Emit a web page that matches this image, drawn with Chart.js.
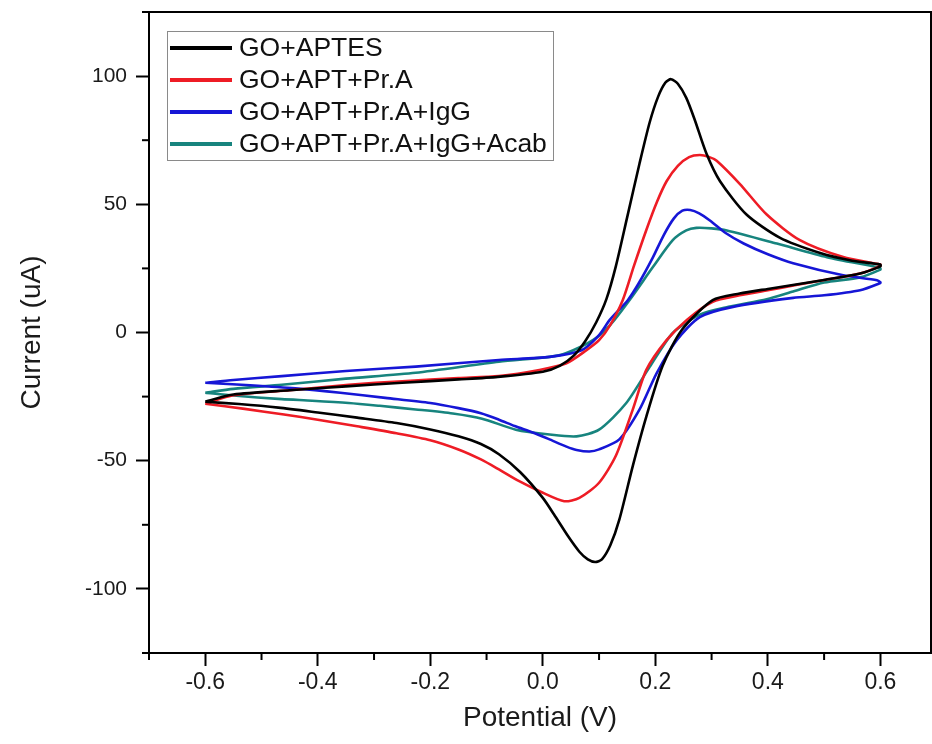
<!DOCTYPE html>
<html><head><meta charset="utf-8">
<script src="https://cdn.jsdelivr.net/npm/chart.js@4.4.0/dist/chart.umd.min.js"></script>
<style>html,body{margin:0;padding:0;background:#fff}#wrap{width:932px;height:744px;position:relative}</style>
</head><body><div id="wrap"><canvas id="c" width="932" height="744"></canvas></div>
<script>
// ---- Data (Potential in V, Current in uA), closed CV loops ----
const seriesNames = ["GO+APTES", "GO+APT+Pr.A", "GO+APT+Pr.A+IgG", "GO+APT+Pr.A+IgG+Acab"];
const seriesColors = ["#000000", "#ee1c25", "#1616d6", "#17847e"];

const apteV = [-0.6,-0.55,-0.45,-0.35,-0.25,-0.15,-0.08,0.0,0.03,0.055,0.075,0.095,0.113,0.13,0.15,0.172,0.19,0.205,0.218,0.228,0.24,0.255,0.27,0.291,0.315,0.362,0.421,0.493,0.55,0.6,
               0.6,0.564,0.5,0.45,0.4,0.35,0.302,0.247,0.213,0.184,0.16,0.136,0.12,0.105,0.093,0.08,0.065,0.045,0.02,0.0,-0.04,-0.078,-0.11,-0.15,-0.2,-0.26,-0.33,-0.4,-0.47,-0.54,-0.6];
const apteI = [-27,-24.2,-22.5,-21,-19.6,-18.3,-17.3,-15.3,-13,-9,-3.5,4,13,26,45,66,82,92,97.5,98.8,97,91.5,83,69.7,59,46,37,31,28,26.5,
               25.8,23,20.5,18.7,17,15.2,12.6,1,-13,-32.8,-52,-73,-83,-88.5,-89.5,-88.5,-85.5,-79.5,-71,-64.5,-54.5,-47.5,-43.5,-40.5,-37.8,-35.3,-33.2,-31.2,-29.3,-27.9,-27];

const praV = [-0.6,-0.55,-0.45,-0.345,-0.25,-0.15,-0.078,-0.006,0.042,0.077,0.1,0.12,0.142,0.162,0.184,0.203,0.22,0.24,0.26,0.279,0.295,0.309,0.35,0.398,0.457,0.534,0.6,
              0.6,0.564,0.5,0.45,0.4,0.35,0.302,0.256,0.22,0.184,0.16,0.13,0.1,0.065,0.038,0.0,-0.042,-0.078,-0.11,-0.15,-0.2,-0.26,-0.33,-0.4,-0.46,-0.53,-0.6];
const praI = [-27.8,-24.5,-22.5,-20.4,-19,-17.8,-17,-14.6,-12,-7,-3,3,12.6,26,40,51,59,65,68.4,69.2,68.5,67,58,46,36,29.4,26.5,
              26,23,20.5,18.5,16.5,14.5,12,4.9,-3,-14.6,-30,-48,-58.6,-64.5,-65.8,-62.5,-58,-53.4,-49.5,-45.6,-42,-39.3,-36.6,-34,-32,-29.8,-27.8];

const iggV = [-0.6,-0.55,-0.464,-0.35,-0.226,-0.078,0.012,0.07,0.1,0.119,0.151,0.17,0.195,0.215,0.233,0.248,0.262,0.278,0.297,0.325,0.357,0.4,0.445,0.534,0.594,0.6,
              0.6,0.564,0.5,0.445,0.338,0.279,0.238,0.202,0.172,0.136,0.1,0.083,0.06,0.042,0.01,-0.018,-0.05,-0.078,-0.11,-0.15,-0.2,-0.28,-0.36,-0.44,-0.52,-0.6];
const iggI = [-19.6,-18.5,-17,-15,-13.3,-10.7,-9.5,-6.8,-1,4.9,12.6,19,29,38,44.5,47.5,47.8,46.5,43.7,38.8,34.7,30.5,27,22.3,20.4,19.6,
              19.3,16.5,14.5,13.5,10,6,-3,-16,-30,-41.7,-45.6,-46.4,-45.8,-44.5,-41.5,-39,-36.5,-34,-31.5,-29.5,-27.5,-25.5,-23.5,-21.8,-20.6,-19.6];

const acabV = [-0.6,-0.55,-0.464,-0.35,-0.226,-0.078,0.012,0.042,0.089,0.12,0.154,0.196,0.231,0.255,0.273,0.3,0.327,0.416,0.505,0.594,0.6,
               0.6,0.564,0.5,0.445,0.398,0.33,0.279,0.231,0.19,0.148,0.1,0.06,0.012,-0.048,-0.108,-0.16,-0.226,-0.29,-0.345,-0.41,-0.464,-0.55,-0.6];
const acabI = [-23.5,-22,-20.4,-18,-15.7,-11.4,-9.5,-8,-3,3,12.6,25.6,36,39.8,40.8,40.6,39.8,34.7,29.4,25.5,25,
               24.5,21.5,19.5,16,13,10,7,-0.2,-13.4,-27.6,-37.9,-40.5,-39.8,-37.9,-33.6,-31.6,-30,-28.6,-27.5,-26.6,-26,-24.6,-23.5];

const xMajorTicks = [-0.6,-0.4,-0.2,0.0,0.2,0.4,0.6];
const xMinorTicks = [-0.7,-0.5,-0.3,-0.1,0.1,0.3,0.5];
const yMajorTicks = [-100,-50,0,50,100];
const yMinorTicks = [-125,-75,-25,25,75,125];

// ---- build ----
const FONT = '"Liberation Sans", Arial, Helvetica, sans-serif';
const pairs = (vs, is) => vs.map((v, k) => ({x: v, y: is[k]}));
const allV = [apteV, praV, iggV, acabV];
const allI = [apteI, praI, iggI, acabI];
const datasets = seriesNames.map((n, k) => ({
  label: n,
  data: pairs(allV[k], allI[k]),
  borderColor: seriesColors[k],
  backgroundColor: seriesColors[k],
  borderWidth: 2.6,
  showLine: true,
  pointRadius: 0,
  tension: 0.25,
  fill: false
}));

const decor = {
  id: 'decor',
  afterDraw(chart) {
    const {ctx, chartArea: a, scales: {x, y}} = chart;
    ctx.save();
    ctx.strokeStyle = '#000';
    ctx.lineWidth = 2;
    ctx.beginPath();
    ctx.moveTo(a.left, a.top); ctx.lineTo(a.right, a.top); ctx.lineTo(a.right, a.bottom);
    ctx.stroke();
    xMinorTicks.forEach(v => {
      const p = x.getPixelForValue(v);
      ctx.beginPath(); ctx.moveTo(p, a.bottom); ctx.lineTo(p, a.bottom + 7); ctx.stroke();
    });
    yMinorTicks.forEach(v => {
      const p = y.getPixelForValue(v);
      ctx.beginPath(); ctx.moveTo(a.left, p); ctx.lineTo(a.left - 7, p); ctx.stroke();
    });
    // legend
    const lx = a.left + 18, ly = a.top + 19, lw = 386, lh = 129;
    ctx.fillStyle = '#fff';
    ctx.fillRect(lx, ly, lw, lh);
    ctx.strokeStyle = '#8a8a8a'; ctx.lineWidth = 1;
    ctx.strokeRect(lx + 0.5, ly + 0.5, lw, lh);
    ctx.font = '26.5px ' + FONT;
    ctx.textBaseline = 'middle';
    ctx.textAlign = 'left';
    chart.data.datasets.forEach((ds, k) => {
      const yy = ly + 17 + k * 32;
      ctx.strokeStyle = ds.borderColor; ctx.lineWidth = 3.8;
      ctx.beginPath(); ctx.moveTo(lx + 3, yy); ctx.lineTo(lx + 65, yy); ctx.stroke();
      ctx.fillStyle = '#111';
      ctx.fillText(ds.label, lx + 72, yy + 1);
    });
    ctx.restore();
  }
};

new Chart(document.getElementById('c'), {
  type: 'scatter',
  data: {datasets},
  plugins: [decor],
  options: {
    responsive: false,
    animation: false,
    devicePixelRatio: 1,
    layout: {padding: {top: 12, right: 1, left: 0, bottom: 0}},
    plugins: {legend: {display: false}, tooltip: {enabled: false}},
    scales: {
      x: {
        type: 'linear', min: -0.7, max: 0.69,
        afterBuildTicks: s => { s.ticks = xMajorTicks.map(v => ({value: v})); },
        afterFit: s => { s.height = 91; s.paddingLeft = 0; s.paddingRight = 0; },
        ticks: {callback: v => Number(v).toFixed(1), font: {family: FONT, size: 23}, color: '#1a1a1a', padding: 3, maxRotation: 0, autoSkip: false},
        grid: {drawOnChartArea: false, drawTicks: true, tickLength: 13, tickWidth: 2, tickColor: '#000'},
        border: {display: true, color: '#000', width: 2},
        title: {display: true, text: 'Potential (V)', font: {family: FONT, size: 28}, color: '#1a1a1a', padding: {top: 0, bottom: 9}}
      },
      y: {
        type: 'linear', min: -125, max: 125,
        afterBuildTicks: s => { s.ticks = yMajorTicks.map(v => ({value: v})); },
        afterFit: s => { s.width = 149; s.paddingTop = 0; s.paddingBottom = 0; },
        ticks: {callback: v => String(v), font: {family: FONT, size: 21}, color: '#1a1a1a', padding: 9, autoSkip: false},
        grid: {drawOnChartArea: false, drawTicks: true, tickLength: 13, tickWidth: 2, tickColor: '#000'},
        border: {display: true, color: '#000', width: 2},
        title: {display: true, text: 'Current (uA)', font: {family: FONT, size: 28}, color: '#1a1a1a', padding: {top: 15, bottom: 0}}
      }
    }
  }
});
</script></body></html>
